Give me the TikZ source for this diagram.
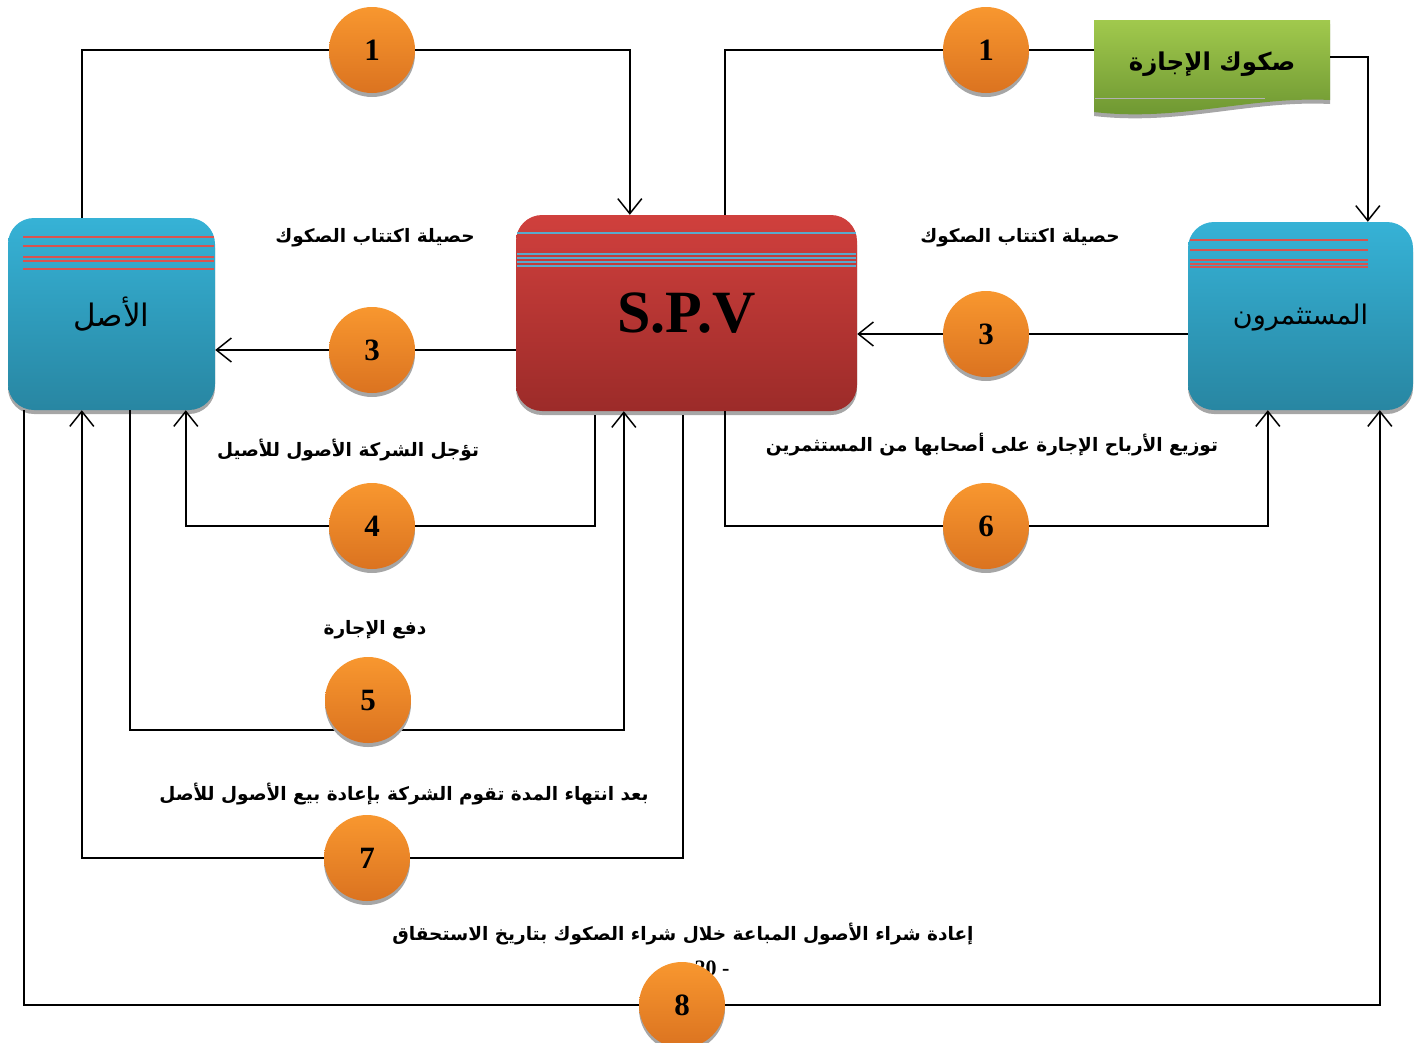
\documentclass[tikz,border=0pt]{standalone}
\usepackage{fontspec}
\usetikzlibrary{arrows.meta,shadows}
\setmainfont{Liberation Serif}
\newfontfamily\arabicfont[Script=Arabic]{DejaVu Sans}
\TeXXeTstate=1

\definecolor{boxblueT}{HTML}{36B2D6}
\definecolor{boxblueB}{HTML}{2886A2}
\definecolor{boxredT}{HTML}{D0403D}
\definecolor{boxredB}{HTML}{9C2B29}
\definecolor{dotT}{HTML}{F8972F}
\definecolor{dotB}{HTML}{DB7320}
\definecolor{leafT}{HTML}{A1C94D}
\definecolor{leafB}{HTML}{6B9430}
\definecolor{stripeR}{HTML}{D9534F}
\definecolor{stripeB}{HTML}{5AA9CC}

\tikzset{
  party/.style={rounded corners=26pt, inner sep=0pt, top color=boxblueT, bottom color=boxblueB,
    drop shadow={shadow xshift=0pt, shadow yshift=-4pt, fill=black!35, opacity=1}},
  spvbox/.style={rounded corners=26pt, inner sep=0pt, top color=boxredT, bottom color=boxredB,
    drop shadow={shadow xshift=0pt, shadow yshift=-4pt, fill=black!35, opacity=1}},
  stepdot/.style={circle, minimum size=86pt, inner sep=0pt, top color=dotT, bottom color=dotB,
    drop shadow={shadow xshift=0pt, shadow yshift=-4pt, fill=black!35, opacity=1},
    font=\fontsize{31}{31}\selectfont\bfseries},
  flow/.style={line width=1.5pt, black},
  flowarrow/.style={flow, -{Straight Barb[length=15pt,width=24pt,line width=1.5pt]}},
  caption/.style={font=\arabicfont\bfseries\fontsize{18.5}{22}\selectfont, inner sep=1pt},
  stripe/.style={line width=1.1pt}
}

\newcommand{\ar}[1]{\beginR #1\endR}

\begin{document}
\begin{tikzpicture}[x=1pt,y=-1pt]
\useasboundingbox (0,0) rectangle (1418,1042);

% ---- main parties ----
\node[party, minimum width=207pt, minimum height=192pt] (asl) at (111.5,314) {};
\node[spvbox, minimum width=341pt, minimum height=196pt] (spv) at (686.5,313) {};
\node[party, minimum width=225pt, minimum height=188pt] (inv) at (1300.5,316) {};

% stripes on the boxes
\foreach \yy in {237,246,257,261,269}
  \draw[stripe, stripeR] (23,\yy) -- (214,\yy);
\foreach \yy in {240,250,260,264,267}
  \draw[stripe, stripeR] (1190,\yy) -- (1368,\yy);
\foreach \yy in {233,254,258,262,266}
  \draw[stripe, stripeB] (517,\yy) -- (856,\yy);

\node[font=\arabicfont\fontsize{31}{34}\selectfont] at (asl) {\ar{الأصل}};
\node[font=\fontsize{60}{62}\selectfont\bfseries] at (spv) {S.P.V};
\node[font=\arabicfont\fontsize{27}{30}\selectfont] at ([yshift=-2pt]inv) {\ar{المستثمرون}};

% ---- certificate banner ----
\fill[black!35] (1094,24) -- (1330,24) -- (1330,104)
  .. controls (1250,100) and (1180,126) .. (1094,116) -- cycle;
\shade[top color=leafT, bottom color=leafB] (1094,20) -- (1330,20) -- (1330,100)
  .. controls (1250,96) and (1180,122) .. (1094,112) -- cycle;
\draw[black!30, line width=1pt] (1095,98) -- (1265,98);
\node[minimum width=236pt, minimum height=80pt, inner sep=0pt,
  font=\arabicfont\bfseries\fontsize{24.5}{28}\selectfont] (sk) at (1212,60) {};
\node[font=\arabicfont\bfseries\fontsize{24.5}{28}\selectfont] (skt) at (1212,64) {\ar{صكوك الإجازة}};

% ---- step positions ----
\coordinate (p1a) at (372,50);
\coordinate (p1b) at (986,50);
\coordinate (p3a) at (372,350);
\coordinate (p3b) at (986,334);
\coordinate (p4) at (372,526);
\coordinate (p5) at (368,700);
\coordinate (r5) at (368,730);
\coordinate (p6) at (986,526);
\coordinate (p7) at (367,858);
\coordinate (p8) at (682,1005);

% ---- connectors ----
\draw[flow] ([xshift=74pt]asl.north west) |- (p1a);
\draw[flowarrow] (p1a) -| ([xshift=114pt]spv.north west);
\draw[flow] ([xshift=209pt]spv.north west) |- (p1b) -- (p1b -| sk.west);
\draw[flowarrow] ([yshift=3pt]sk.east) -| ([xshift=180pt]inv.north west);

\draw[flow] (p3b -| inv.west) -- (p3b);
\draw[flowarrow] (p3b) -- (p3b -| spv.east);
\draw[flow] (p3a -| spv.west) -- (p3a);
\draw[flowarrow] (p3a) -- (p3a -| asl.east);

\draw[flow] ([xshift=79pt,yshift=-4pt]spv.south west) |- (p4);
\draw[flowarrow] (p4) -| ([xshift=178pt]asl.south west);

\draw[flowarrow] ([xshift=122pt]asl.south west) |- (r5) -| ([xshift=108pt]spv.south west);

\draw[flow] ([xshift=167pt,yshift=-4pt]spv.south west) |- (p7);
\draw[flowarrow] (p7) -| ([xshift=74pt]asl.south west);

\draw[flow] ([xshift=209pt]spv.south west) |- (p6);
\draw[flowarrow] (p6) -| ([xshift=80pt]inv.south west);

\draw[flow] ([xshift=16pt]asl.south west) |- (p8);
\draw[flowarrow] (p8) -| ([xshift=192pt]inv.south west);

% page number peeking out behind step 8
\node[font=\fontsize{22}{22}\selectfont\bfseries] (pg) at (712,968) {20 -};

% ---- numbered steps ----
\node[stepdot] (c1a) at (p1a) {1};
\node[stepdot] (c1b) at (p1b) {1};
\node[stepdot] (c3a) at (p3a) {3};
\node[stepdot] (c3b) at (p3b) {3};
\node[stepdot] (c4) at (p4) {4};
\node[stepdot] (c5) at (p5) {5};
\node[stepdot] (c6) at (p6) {6};
\node[stepdot] (c7) at (p7) {7};
\node[stepdot] (c8) at (p8) {8};

% ---- captions ----
\node[caption] (l1) at (375,238) {\ar{حصيلة اكتتاب الصكوك}};
\node[caption] (l2) at (1020,238) {\ar{حصيلة اكتتاب الصكوك}};
\node[caption] (l3) at (348,450) {\ar{تؤجل الشركة الأصول للأصيل}};
\node[caption] (l4) at (992,445) {\ar{توزيع الأرباح الإجارة على أصحابها من المستثمرين}};
\node[caption] (l5) at (375,630) {\ar{دفع الإجارة}};
\node[caption] (l6) at (404,794) {\ar{بعد انتهاء المدة تقوم الشركة بإعادة بيع الأصول للأصل}};
\node[caption] (l7) at (683,934) {\ar{إعادة شراء الأصول المباعة خلال شراء الصكوك بتاريخ الاستحقاق}};
\end{tikzpicture}
\end{document}
